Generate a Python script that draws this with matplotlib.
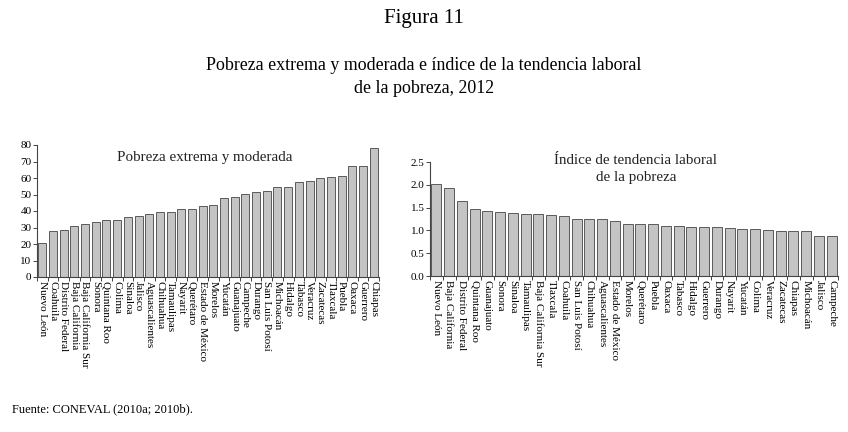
import matplotlib
matplotlib.use("Agg")
import matplotlib.pyplot as plt
import numpy as np

plt.rcParams['font.family'] = ['Liberation Serif', 'DejaVu Serif']

# Pobreza extrema y moderada (%), 2012
pobreza_estados = ["Nuevo León", "Coahuila", "Distrito Federal", "Baja California",
                   "Baja California Sur", "Sonora", "Quintana Roo", "Colima", "Sinaloa",
                   "Jalisco", "Aguascalientes", "Chihuahua", "Tamaulipas", "Nayarit",
                   "Querétaro", "Estado de México", "Morelos", "Yucatán", "Guanajuato",
                   "Campeche", "Durango", "San Luis Potosí", "Michoacán", "Hidalgo",
                   "Tabasco", "Veracruz", "Zacatecas", "Tlaxcala", "Puebla", "Oaxaca",
                   "Guerrero", "Chiapas"]
pobreza_valores = [20.9, 27.9, 28.7, 31.0, 32.2, 33.5, 34.5, 34.7, 36.5, 37.0, 38.0,
                   39.2, 39.6, 41.3, 41.5, 42.9, 43.7, 47.6, 48.3, 50.1, 51.3, 52.2,
                   54.4, 54.8, 57.3, 58.1, 60.0, 60.4, 61.2, 67.1, 67.4, 78.4]

# Indice de tendencia laboral de la pobreza
itlp_estados = ["Nuevo León", "Baja California", "Distrito Federal", "Quintana Roo",
                "Guanajuato", "Sonora", "Sinaloa", "Tamaulipas", "Baja California Sur",
                "Tlaxcala", "Coahuila", "San Luis Potosí", "Chihuahua", "Aguascalientes",
                "Estado de México", "Morelos", "Querétaro", "Puebla", "Oaxaca", "Tabasco",
                "Hidalgo", "Guerrero", "Durango", "Nayarit", "Yucatán", "Colima",
                "Veracruz", "Zacatecas", "Chiapas", "Michoacán", "Jalisco", "Campeche"]
itlp_valores = [2.01, 1.93, 1.65, 1.46, 1.42, 1.40, 1.39, 1.37, 1.35, 1.34, 1.32,
                1.26, 1.26, 1.24, 1.21, 1.15, 1.13, 1.13, 1.10, 1.09, 1.08, 1.08,
                1.08, 1.05, 1.04, 1.02, 1.00, 0.99, 0.99, 0.99, 0.88, 0.88]

BAR_COLOR = '#c4c4c4'
EDGE_COLOR = '#5a5a5a'


def draw_panel(ax, labels, values, width, ylim, yticks, fmt):
    x = np.arange(len(values))
    ax.bar(x, values, width=width, color=BAR_COLOR, edgecolor=EDGE_COLOR, linewidth=0.7)
    ax.set_xlim(-0.5, len(values) - 0.5)
    ax.set_ylim(*ylim)
    ax.set_yticks(yticks)
    ax.set_yticklabels([fmt.format(v) for v in yticks], fontsize=8)
    ax.set_xticks(x)
    ax.set_xticklabels(labels, rotation=270, fontsize=8, va='top', ha='center')
    ax.set_xticks(np.arange(len(values) + 1) - 0.5, minor=True)
    ax.tick_params(axis='x', which='major', length=0, pad=3)
    ax.tick_params(axis='x', which='minor', length=3, width=0.7, color='#444444')
    ax.tick_params(axis='y', length=3, width=0.7, pad=1, color='#444444')
    for s in ['top', 'right']:
        ax.spines[s].set_visible(False)
    for s in ['left', 'bottom']:
        ax.spines[s].set_linewidth(0.8)
        ax.spines[s].set_color('#444444')


fig = plt.figure(figsize=(8.48, 4.32), dpi=100)

ax1 = fig.add_axes([37 / 848, 1 - 277 / 432, (379 - 37) / 848, (277 - 145) / 432])
draw_panel(ax1, pobreza_estados, pobreza_valores, 0.75, (0, 80),
           list(range(0, 81, 10)), "{:d}")

ax2 = fig.add_axes([430 / 848, 1 - 276 / 432, (838 - 430) / 848, (276 - 162) / 432])
draw_panel(ax2, itlp_estados, itlp_valores, 0.8, (0, 2.5),
           [0.0, 0.5, 1.0, 1.5, 2.0, 2.5], "{:.1f}")

# panel titles
fig.text(205 / 848, 1 - 158 / 432, "Pobreza extrema y moderada", ha='center', va='center',
         fontsize=10.8, color='#222222')
fig.text(636 / 848, 1 - 169 / 432, "Índice de tendencia laboral\nde la pobreza", ha='center',
         va='center', fontsize=10.8, color='#222222', linespacing=1.45)

fig.text(0.5, 1 - 19 / 432, "Figura 11", ha='center', va='center', fontsize=15)
fig.text(0.5, 1 - 77 / 432, "Pobreza extrema y moderada e índice de la tendencia laboral\nde la pobreza, 2012",
         ha='center', va='center', fontsize=12.9, linespacing=1.4)
fig.text(12 / 848, 1 - 409 / 432, "Fuente: CONEVAL (2010a; 2010b).", ha='left', va='center',
         fontsize=9)

fig.savefig("out.png", dpi=100)
